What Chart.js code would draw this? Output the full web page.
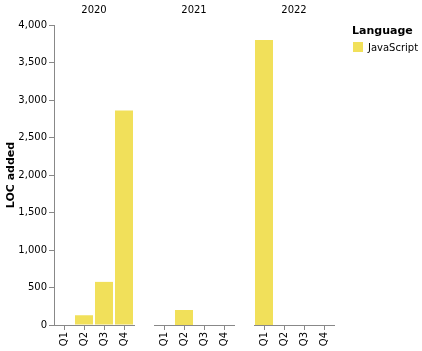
<!DOCTYPE html>
<html>
<head>
<meta charset="utf-8">
<script src="https://cdn.jsdelivr.net/npm/chart.js@4"></script>
<style>
  body { margin: 0; background: #fff; font-family: 'DejaVu Sans', sans-serif; }
  #wrap { position: relative; width: 422px; height: 351px; }
  canvas { position: absolute; top: 0; }
  .facet { position: absolute; top: 4px; width: 80px; text-align: center; font-size: 10px; color: #000; }
  #legend { position: absolute; left: 352px; top: 24px; font-size: 10px; color: #000; }
  #legend .title { font-weight: bold; font-size: 11px; margin-bottom: 5px; }
  #legend .swatch { display: inline-block; width: 10px; height: 10px; background: #f1e05a; vertical-align: -1px; margin-left: 1px; margin-right: 5px; }
</style>
</head>
<body>
<div id="wrap">
  <canvas id="c2020" width="144" height="351" style="left:0px"></canvas>
  <canvas id="c2021" width="100" height="351" style="left:144px"></canvas>
  <canvas id="c2022" width="100" height="351" style="left:244px"></canvas>
  <div class="facet" style="left:54px">2020</div>
  <div class="facet" style="left:154px">2021</div>
  <div class="facet" style="left:254px">2022</div>
  <div id="legend">
    <div class="title">Language</div>
    <div><span class="swatch"></span>JavaScript</div>
  </div>
</div>
<script>
// ----- data -----
const years = ['2020', '2021', '2022'];
const quarters = ['Q1', 'Q2', 'Q3', 'Q4'];
const loc2020 = [null, 130, 575, 2860];
const loc2021 = [null, 200, null, null];
const loc2022 = [3800, null, null, null];
const yMax = 4000;
const yStep = 500;
const barColor = '#f1e05a';

Chart.defaults.font.family = "'DejaVu Sans', sans-serif";
Chart.defaults.font.size = 10;
Chart.defaults.color = '#000';
Chart.defaults.animation = false;

function facetChart(canvasId, values, showY) {
    const canvas = document.getElementById(canvasId);
    return new Chart(canvas, {
        type: 'bar',
        data: {
            labels: quarters,
            datasets: [{
                label: 'JavaScript',
                data: values,
                backgroundColor: barColor,
                borderWidth: 0,
                categoryPercentage: 1,
                barPercentage: 0.9,
            }],
        },
        options: {
            responsive: false,
            layout: { padding: { top: 25, left: 0, right: 10, bottom: 0 } },
            plugins: { legend: { display: false }, tooltip: { enabled: false } },
            scales: {
                x: {
                    grid: { display: true, offset: false, drawOnChartArea: false, drawTicks: true, tickLength: 5, color: '#888' },
                    border: { color: '#888' },
                    ticks: { autoSkip: false, minRotation: 90, maxRotation: 90, padding: 2, color: '#000', font: { size: 10 } },
                    afterFit: (s) => {
                        s.height = 26;
                        s.paddingLeft = 0;
                        s.paddingRight = 0;
                    },
                },
                y: {
                    min: 0,
                    max: yMax,
                    grid: { display: showY, drawOnChartArea: false, drawTicks: true, tickLength: 5, color: '#888' },
                    border: { display: showY, color: '#888' },
                    ticks: { display: showY, stepSize: yStep, padding: 2, color: '#000', font: { size: 10 } },
                    title: { display: showY, text: 'LOC added', font: { size: 11, weight: 'bold' }, color: '#000', padding: 5 },
                    afterFit: (s) => { s.width = showY ? 54 : 10; },
                },
            },
        },
    });
}

facetChart('c2020', loc2020, true);
facetChart('c2021', loc2021, false);
facetChart('c2022', loc2022, false);
</script>
</body>
</html>
